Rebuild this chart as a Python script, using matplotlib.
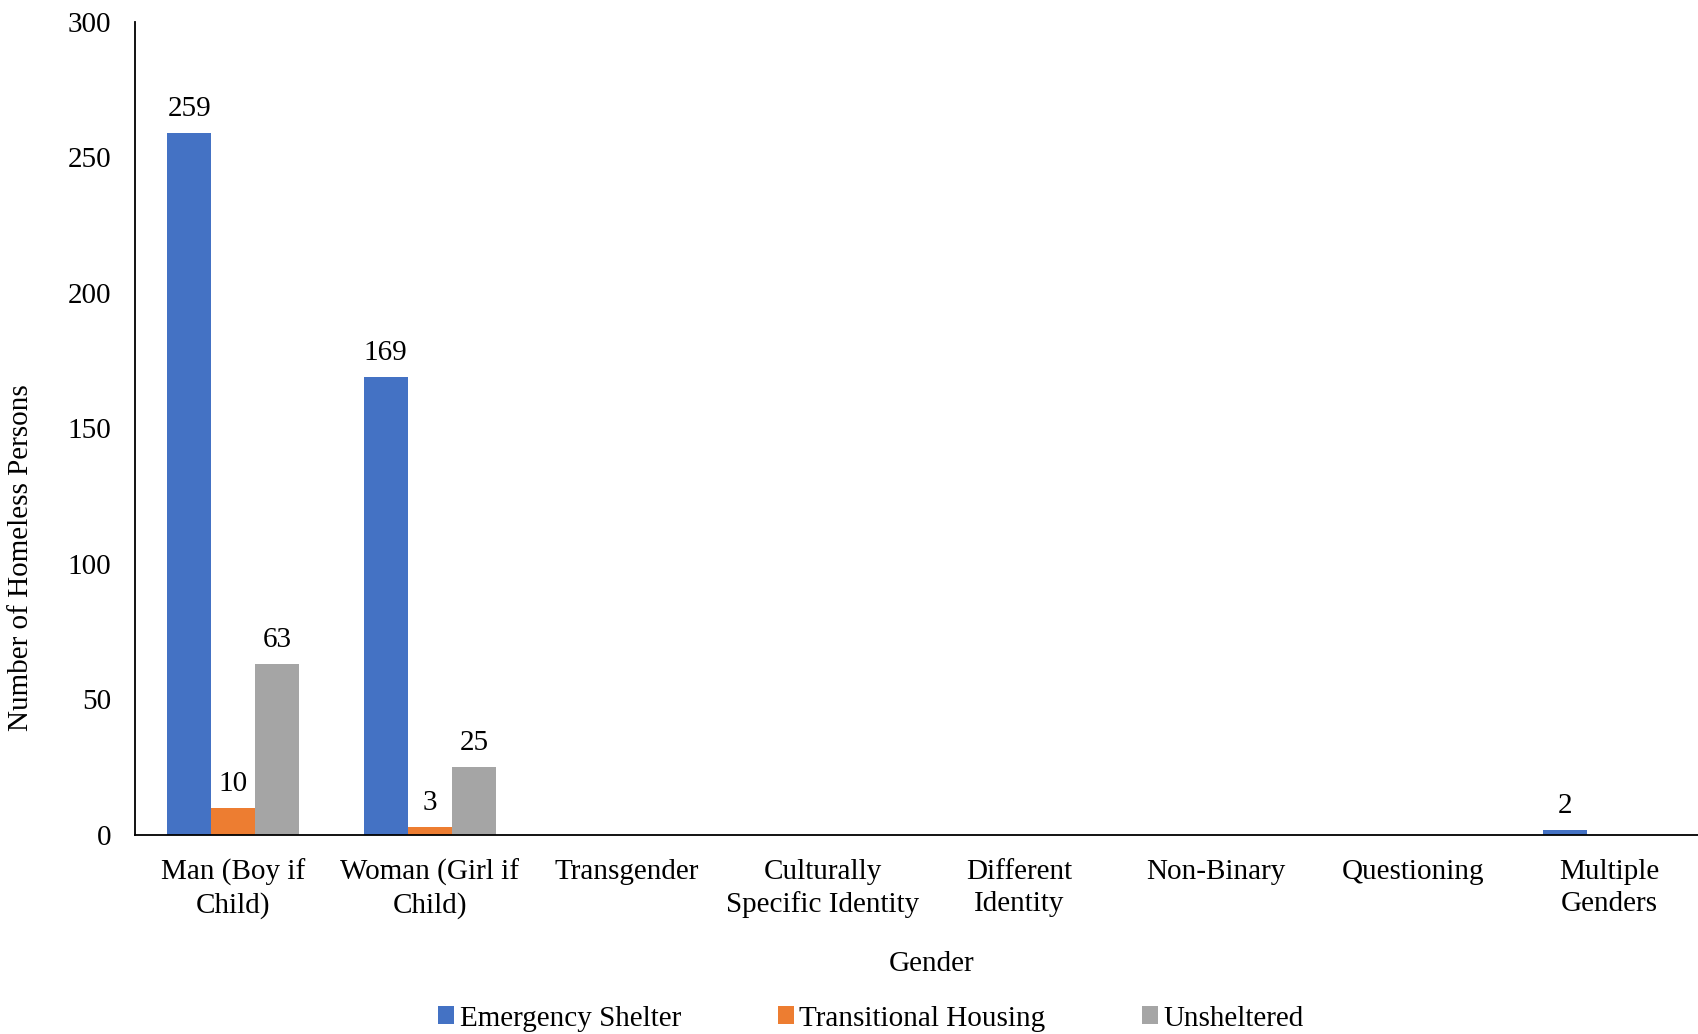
import numpy as np
import matplotlib.pyplot as plt

plt.rcParams['font.family'] = ['Liberation Serif', 'DejaVu Serif']
plt.rcParams['font.size'] = 21

# ---- data ----
categories = ["Man (Boy if\nChild)", "Woman (Girl if\nChild)", "Transgender",
              "Culturally\nSpecific Identity", "Different\nIdentity", "Non-Binary",
              "Questioning", "Multiple\nGenders"]
emergency = [259, 169, 0, 0, 0, 0, 0, 2]
transitional = [10, 3, 0, 0, 0, 0, 0, 0]
unsheltered = [63, 25, 0, 0, 0, 0, 0, 0]

series = [("Emergency Shelter", emergency, "#4472C4"),
          ("Transitional Housing", transitional, "#ED7D31"),
          ("Unsheltered", unsheltered, "#A5A5A5")]

fig = plt.figure(figsize=(16.98, 10.34), dpi=100)
ax = fig.add_axes([0.0795, 0.1925, 0.926, 0.7865])

x = np.arange(len(categories))
w = 0.224
for i, (name, vals, col) in enumerate(series):
    bars = ax.bar(x + (i - 1) * w, vals, w, color=col, label=name)
    for b, v in zip(bars, vals):
        if v > 0:
            ax.text(b.get_x() + b.get_width() / 2, v + 4, str(v),
                    ha="center", va="bottom")

ax.set_xlim(-0.5, len(categories) - 0.5)
ax.set_ylim(0, 300)
ax.set_yticks(range(0, 301, 50))
ax.set_xticks(x)
ax.set_xticklabels(categories, linespacing=1.3)
ax.tick_params(axis="both", length=0)
ax.tick_params(axis="y", pad=17)
ax.tick_params(axis="x", pad=17)
for s in ["top", "right"]:
    ax.spines[s].set_visible(False)
ax.spines["left"].set_linewidth(1.3)
ax.spines["bottom"].set_linewidth(1.3)

ax.set_ylabel("Number of Homeless Persons")
ax.yaxis.set_label_coords(-0.064, 0.341)
ax.set_xlabel("Gender")
ax.xaxis.set_label_coords(0.5066, -0.143)

fig.legend(loc="lower center", bbox_to_anchor=(0.513, -0.023), ncol=3, frameon=False,
           handlelength=0.55, handleheight=0.55, handletextpad=0.2,
           columnspacing=3.3)

fig.savefig("out.png", dpi=100)
